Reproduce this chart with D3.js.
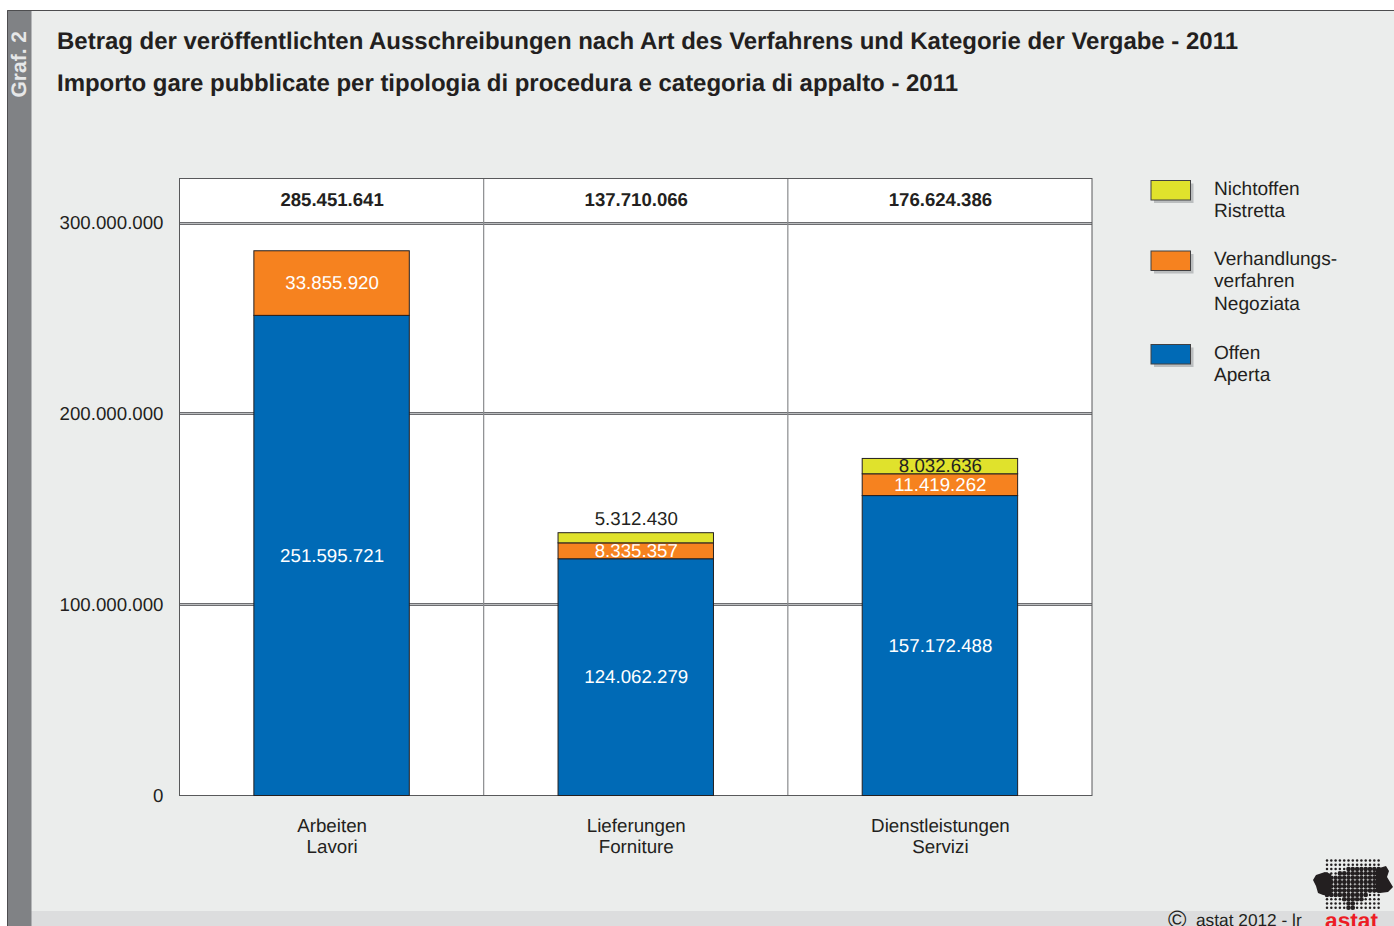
<!DOCTYPE html>
<html>
<head>
<meta charset="utf-8">
<script src="https://cdn.jsdelivr.net/npm/d3@7"></script>
<style>
  html, body { margin: 0; padding: 0; background: #fff; }
  svg { display: block; }
  text { font-family: "Liberation Sans", Arial, sans-serif; fill: #231f20; text-rendering: geometricPrecision; }
</style>
</head>
<body>
<div id="chart"></div>
<script>
// chart values
const categories = ["Arbeiten|Lavori", "Lieferungen|Forniture", "Dienstleistungen|Servizi"];
const offen = [251595721, 124062279, 157172488];
const verhandlung = [33855920, 8335357, 11419262];
const nichtoffen = [0, 5312430, 8032636];
const totals = [285451641, 137710066, 176624386];
const yTicks = [0, 100000000, 200000000, 300000000];

const seriesKeys = ["offen", "verhandlung", "nichtoffen"];
const seriesColors = { offen: "#006ab6", verhandlung: "#f6821f", nichtoffen: "#e0e22c" };
const legendItems = [
    { key: "nichtoffen", lines: ["Nichtoffen", "Ristretta"] },
    { key: "verhandlung", lines: ["Verhandlungs-", "verfahren", "Negoziata"] },
    { key: "offen", lines: ["Offen", "Aperta"] }
];

const width = 1394, height = 926;
const plot = { left: 179.5, right: 1092, top: 178.5, bottom: 795.5 };

const svg = d3.select("#chart").append("svg")
    .attr("width", width)
    .attr("height", height);

const deFormat = d3.formatLocale({ decimal: ",", thousands: ".", grouping: [3], currency: ["", "€"] }).format(",d");

// panel, side band and footer
svg.append("rect").attr("x", 7).attr("y", 10).attr("width", width - 7).attr("height", height - 10)
    .attr("fill", "#ebedec");
svg.append("rect").attr("x", 7).attr("y", 911).attr("width", width - 7).attr("height", 15)
    .attr("fill", "#dcddde");
svg.append("rect").attr("x", 7).attr("y", 10).attr("width", 24.5).attr("height", height - 10)
    .attr("fill", "#808285");
svg.append("path").attr("d", `M7.5,926V10.5H${width}`)
    .attr("fill", "none").attr("stroke", "#4d4d4f").attr("stroke-width", 1);

svg.append("text")
    .attr("transform", "translate(26,97.5) rotate(-90)")
    .attr("font-size", 21).attr("font-weight", "bold")
    .style("fill", "#e6e7e8")
    .text("Graf. 2");

// titles
svg.append("text").attr("x", 57).attr("y", 49)
    .attr("font-size", 24).attr("font-weight", "bold")
    .attr("textLength", 1181).attr("lengthAdjust", "spacing")
    .text("Betrag der veröffentlichten Ausschreibungen nach Art des Verfahrens und Kategorie der Vergabe - 2011");
svg.append("text").attr("x", 57).attr("y", 91)
    .attr("font-size", 24).attr("font-weight", "bold")
    .attr("textLength", 901).attr("lengthAdjust", "spacing")
    .text("Importo gare pubblicate per tipologia di procedura e categoria di appalto - 2011");

// scales
const x = d3.scaleBand().domain(categories).range([plot.left, plot.right]);
const y = d3.scaleLinear().domain([0, 300000000]).range([plot.bottom, 223]);
const barWidth = x.bandwidth() * 0.511;
const barX = d => x(d) + (x.bandwidth() - barWidth) / 2;

// stack the three series per category
const rows = categories.map((c, i) => ({
    category: c, offen: offen[i], verhandlung: verhandlung[i], nichtoffen: nichtoffen[i]
}));
const stacked = d3.stack().keys(seriesKeys)(rows);

// plot background and grid
svg.append("rect")
    .attr("x", plot.left).attr("y", plot.top)
    .attr("width", plot.right - plot.left).attr("height", plot.bottom - plot.top)
    .attr("fill", "#fff");

const yAxis = d3.axisLeft(y).tickValues(yTicks).tickSize(0).tickPadding(16).tickFormat(deFormat);
const yAxisG = svg.append("g").attr("transform", `translate(${plot.left},0)`).call(yAxis);
yAxisG.select(".domain").remove();
yAxisG.selectAll("text").attr("font-size", 18.7).attr("dy", "0.32em").style("font-family", "Liberation Sans");

const gridY = d => Math.floor(y(d)) + 0.5;
const grid = svg.append("g");
// grid lines are double: dark 3px line with a pale core
grid.selectAll("line.h").data(yTicks.filter(d => d > 0)).join("line")
    .attr("class", "h")
    .attr("x1", plot.left).attr("x2", plot.right)
    .attr("y1", gridY).attr("y2", gridY)
    .attr("stroke", "#6d6e71").attr("stroke-width", 3);
grid.selectAll("line.hc").data(yTicks.filter(d => d > 0)).join("line")
    .attr("class", "hc")
    .attr("x1", plot.left).attr("x2", plot.right)
    .attr("y1", gridY).attr("y2", gridY)
    .attr("stroke", "#bcbec0").attr("stroke-width", 1);
grid.selectAll("line.v").data(categories.slice(1)).join("line")
    .attr("class", "v")
    .attr("x1", d => x(d)).attr("x2", d => x(d))
    .attr("y1", plot.top).attr("y2", plot.bottom)
    .attr("stroke", "#8a8c8e").attr("stroke-width", 1.2);

svg.append("rect")
    .attr("x", plot.left).attr("y", plot.top)
    .attr("width", plot.right - plot.left).attr("height", plot.bottom - plot.top)
    .attr("fill", "none").attr("stroke", "#58595b").attr("stroke-width", 1);

// bars, grouped by series
const barGroups = svg.append("g").selectAll("g").data(stacked).join("g")
    .attr("fill", d => seriesColors[d.key]);
barGroups.selectAll("rect")
    .data(d => d.filter(p => p[1] > p[0]))
    .join("rect")
    .attr("x", d => barX(d.data.category))
    .attr("y", d => y(d[1]))
    .attr("width", barWidth)
    .attr("height", d => y(d[0]) - y(d[1]))
    .attr("stroke", "#231f20").attr("stroke-width", 1);

// value labels
const labels = svg.append("g").attr("text-anchor", "middle").attr("font-size", 18.7);
stacked.forEach(s => {
    s.forEach(d => {
        if (d[1] <= d[0]) return;
        const v = d[1] - d[0];
        const cx = x(d.data.category) + x.bandwidth() / 2 + 0.5;
        // the thin top segment of Lieferungen has its label above the bar
        const above = s.key === "nichtoffen" && v < 6000000;
        const ly = above ? y(d[1]) - 13.5 : (y(d[0]) + y(d[1])) / 2;
        labels.append("text")
            .attr("x", cx).attr("y", ly).attr("dy", "0.33em")
            .style("fill", s.key === "nichtoffen" ? "#231f20" : "#fff")
            .text(deFormat(v));
    });
});

// totals in the header strip
svg.append("g").attr("text-anchor", "middle").attr("font-size", 18.6).attr("font-weight", "bold")
    .selectAll("text").data(categories).join("text")
    .attr("x", d => x(d) + x.bandwidth() / 2 + 0.5)
    .attr("y", 206)
    .text((d, i) => deFormat(totals[i]));

// category labels, two lines each
const xAxis = d3.axisBottom(x).tickSize(0).tickFormat("");
const xAxisG = svg.append("g").attr("transform", `translate(0.5,${plot.bottom})`).call(xAxis);
xAxisG.select(".domain").remove();
xAxisG.selectAll(".tick").each(function(d) {
    const t = d3.select(this).select("text")
        .attr("font-size", 18.75).attr("y", 0).attr("dy", 0)
        .style("font-family", "Liberation Sans");
    d.split("|").forEach((line, i) => {
        t.append("tspan").attr("x", 0).attr("y", 36 + i * 21).text(line);
    });
});

// legend
const legendY = [190.5, 261, 354.5];
const legend = svg.append("g");
legendItems.forEach((item, i) => {
    const g = legend.append("g").attr("transform", `translate(1151,${legendY[i] - 10})`);
    g.append("rect").attr("x", 3).attr("y", 3).attr("width", 39.5).attr("height", 19.5).attr("fill", "#a7a9ac").attr("opacity", 0.7);
    g.append("rect").attr("width", 39.5).attr("height", 19.5)
        .attr("fill", seriesColors[item.key]).attr("stroke", "#414042").attr("stroke-width", 1);
    item.lines.forEach((line, j) => {
        g.append("text").attr("x", 63).attr("y", 14 + j * 22.4).attr("font-size", 19.1).text(line);
    });
});

// copyright footer
svg.append("text").attr("x", 1168).attr("y", 928).attr("font-size", 25).attr("font-weight", "normal").text("©");
svg.append("text").attr("x", 1196).attr("y", 926).attr("font-size", 17.3).text("astat 2012 - lr");

// astat logo: dot raster, dots grow inside the silhouette, solid ends left and right
const logo = svg.append("g").attr("fill", "#231f20");
const logoBody = [[1327, 877], [1338, 874], [1348, 867], [1380, 866], [1380, 893], [1367, 895], [1358, 902], [1352, 911], [1346, 911], [1344, 901], [1335, 895], [1327, 895]];
const dotX = d3.range(1327, 1379, 4.3), dotY = d3.range(860.5, 911, 4.3);
logo.selectAll("circle")
    .data(d3.cross(dotX, dotY))
    .join("circle")
    .attr("cx", d => d[0]).attr("cy", d => d[1])
    .attr("r", d => d3.polygonContains(logoBody, d) ? 2.3 : 1.25);
logo.append("path")
    .attr("d", "M1313,880 L1316,875 L1325,872 L1331,874 L1331,896 L1323,895 L1318,893 L1316,886 Z");
logo.append("path")
    .attr("d", "M1376,869 L1386,866 L1389,871 L1387,877 L1393,887 L1388,892 L1380,893 L1376,892 Z");
svg.append("text").attr("x", 1325).attr("y", 927.5)
    .attr("font-size", 22).attr("font-weight", "bold")
    .attr("textLength", 53).attr("lengthAdjust", "spacingAndGlyphs")
    .style("fill", "#ed1c24").text("astat");
</script>
</body>
</html>
